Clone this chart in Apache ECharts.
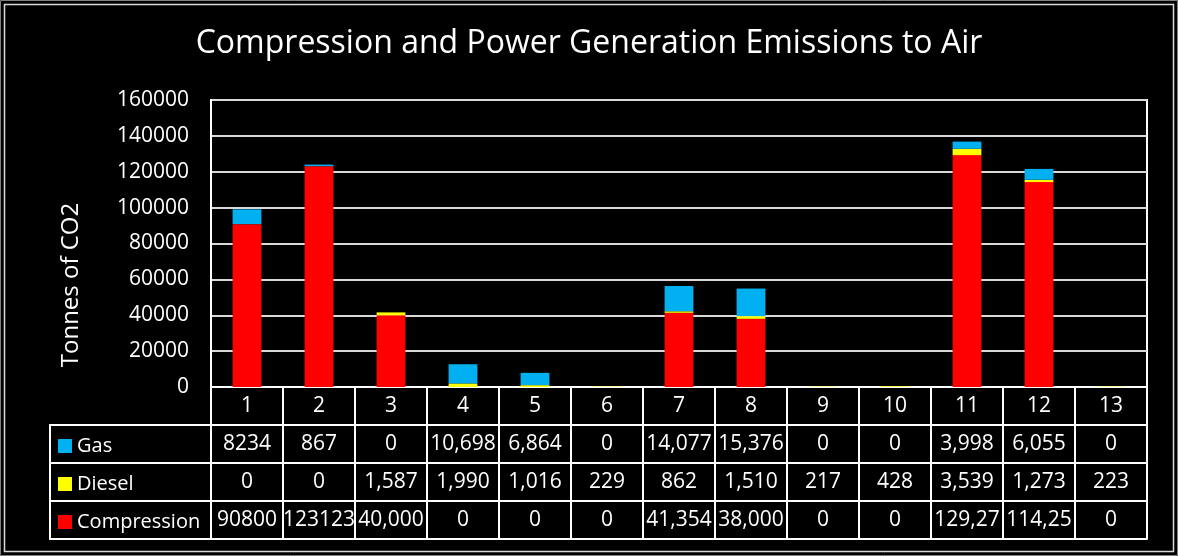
<!DOCTYPE html>
<html>
<head>
<meta charset="utf-8">
<title>Compression and Power Generation Emissions to Air</title>
<script src="https://cdn.jsdelivr.net/npm/echarts@6/dist/echarts.min.js"></script>
<style>
    html, body { margin: 0; padding: 0; background: #000; }
    #main { width: 1178px; height: 556px; }
</style>
</head>
<body>
<div id="main"></div>
<script>
var categories = ['1', '2', '3', '4', '5', '6', '7', '8', '9', '10', '11', '12', '13'];

var gas = [8234, 867, 0, 10698, 6864, 0, 14077, 15376, 0, 0, 3998, 6055, 0];
var diesel = [0, 0, 1587, 1990, 1016, 229, 862, 1510, 217, 428, 3539, 1273, 223];
var compression = [90800, 123123, 40000, 0, 0, 0, 41354, 38000, 0, 0, 129270, 114250, 0];

// table text as it shows in the cells (excel clips the last two compression cells)
var gasText = ['8234', '867', '0', '10,698', '6,864', '0', '14,077', '15,376', '0', '0', '3,998', '6,055', '0'];
var dieselText = ['0', '0', '1,587', '1,990', '1,016', '229', '862', '1,510', '217', '428', '3,539', '1,273', '223'];
var compressionText = ['90800', '123123', '40,000', '0', '0', '0', '41,354', '38,000', '0', '0', '129,27', '114,25', '0'];

var yTicks = { min: 0, max: 160000, interval: 20000 };

var FONT = 'Open Sans';
var WHITE = '#ffffff';
var LINE = '#d9d9d9';
var GRID = { left: 211, right: 31, top: 100, bottom: 169 };
var ROW_H = 38;
var TABLE_LEFT = 50;

var table = {};

/**
 * one extra x axis per table row, its labels are the cells
 */
table.rowAxis = function (offset, texts, showLabel) {
    return {
        type: 'category',
        data: categories,
        position: 'bottom',
        offset: offset,
        axisLine: { show: true, onZero: false, lineStyle: { color: WHITE, width: 2 } },
        axisTick: { show: showLabel, length: ROW_H, lineStyle: { color: WHITE, width: 2 } },
        axisLabel: {
            show: showLabel,
            interval: 0,
            margin: 9,
            color: WHITE,
            fontFamily: FONT,
            fontSize: 21,
            formatter: function (v, i) { return texts ? texts[i] : v; }
        },
        splitLine: { show: false }
    };
};

/**
 * lines of the legend column on the left of the table
 */
table.legendLines = function () {
    var bottomY = 556 - GRID.bottom;
    var items = [];
    for (var r = 1; r <= 4; r++) {
        items.push({
            type: 'line',
            shape: { x1: TABLE_LEFT, y1: bottomY + r * ROW_H, x2: GRID.left, y2: bottomY + r * ROW_H },
            style: { stroke: WHITE, lineWidth: 2 }
        });
    }
    items.push({
        type: 'line',
        shape: { x1: TABLE_LEFT, y1: bottomY + ROW_H - 1, x2: TABLE_LEFT, y2: bottomY + 4 * ROW_H + 1 },
        style: { stroke: WHITE, lineWidth: 2 }
    });
    return items;
};

var myChart = echarts.init(document.getElementById('main'));

var graphics = [
    { type: 'rect', shape: { x: 0.5, y: 0.5, width: 1177, height: 555 }, style: { fill: 'none', stroke: '#7f7f7f', lineWidth: 1 } },
    { type: 'rect', shape: { x: 4.5, y: 4.5, width: 1169, height: 547 }, style: { fill: 'none', stroke: LINE, lineWidth: 1.5 } },
    {
        type: 'text',
        x: 71, y: 285,
        rotation: Math.PI / 2,
        style: {
            text: 'Tonnes of CO2',
            fill: WHITE,
            font: '24px "' + FONT + '"',
            textAlign: 'center',
            textVerticalAlign: 'middle'
        }
    }
].concat(table.legendLines());

var option = {
    backgroundColor: '#000000',
    animation: false,
    textStyle: { fontFamily: FONT },
    title: {
        text: 'Compression and Power Generation Emissions to Air',
        left: 'center',
        top: 23,
        textStyle: { color: WHITE, fontFamily: FONT, fontSize: 32, fontWeight: 'normal' }
    },
    legend: {
        data: ['Gas', 'Diesel', 'Compression'],
        orient: 'vertical',
        left: 53,
        top: 431,
        icon: 'rect',
        itemWidth: 14,
        itemHeight: 14,
        itemGap: 18,
        selectedMode: false,
        textStyle: { color: WHITE, fontFamily: FONT, fontSize: 20, lineHeight: 20 }
    },
    grid: {
        left: GRID.left,
        right: GRID.right,
        top: GRID.top,
        bottom: GRID.bottom,
        show: true,
        borderColor: WHITE,
        borderWidth: 2,
        backgroundColor: 'transparent'
    },
    xAxis: [
        table.rowAxis(0, null, true),
        table.rowAxis(ROW_H, gasText, true),
        table.rowAxis(ROW_H * 2, dieselText, true),
        table.rowAxis(ROW_H * 3, compressionText, true),
        table.rowAxis(ROW_H * 4, null, false)
    ],
    yAxis: {
        type: 'value',
        min: yTicks.min,
        max: yTicks.max,
        interval: yTicks.interval,
        axisLine: { show: true, lineStyle: { color: WHITE, width: 2 } },
        axisTick: { show: false },
        axisLabel: {
            color: WHITE,
            fontFamily: FONT,
            fontSize: 21,
            margin: 22,
            formatter: function (v) { return String(v); }
        },
        splitLine: { show: true, lineStyle: { color: LINE, width: 2 } }
    },
    series: [
        { name: 'Compression', type: 'bar', stack: 'total', barWidth: '40%', data: compression, itemStyle: { color: '#ff0000' } },
        { name: 'Diesel', type: 'bar', stack: 'total', barWidth: '40%', data: diesel, itemStyle: { color: '#ffff00' } },
        { name: 'Gas', type: 'bar', stack: 'total', barWidth: '40%', data: gas, itemStyle: { color: '#00b0f0' } }
    ],
    graphic: graphics
};

myChart.setOption(option);
</script>
</body>
</html>
